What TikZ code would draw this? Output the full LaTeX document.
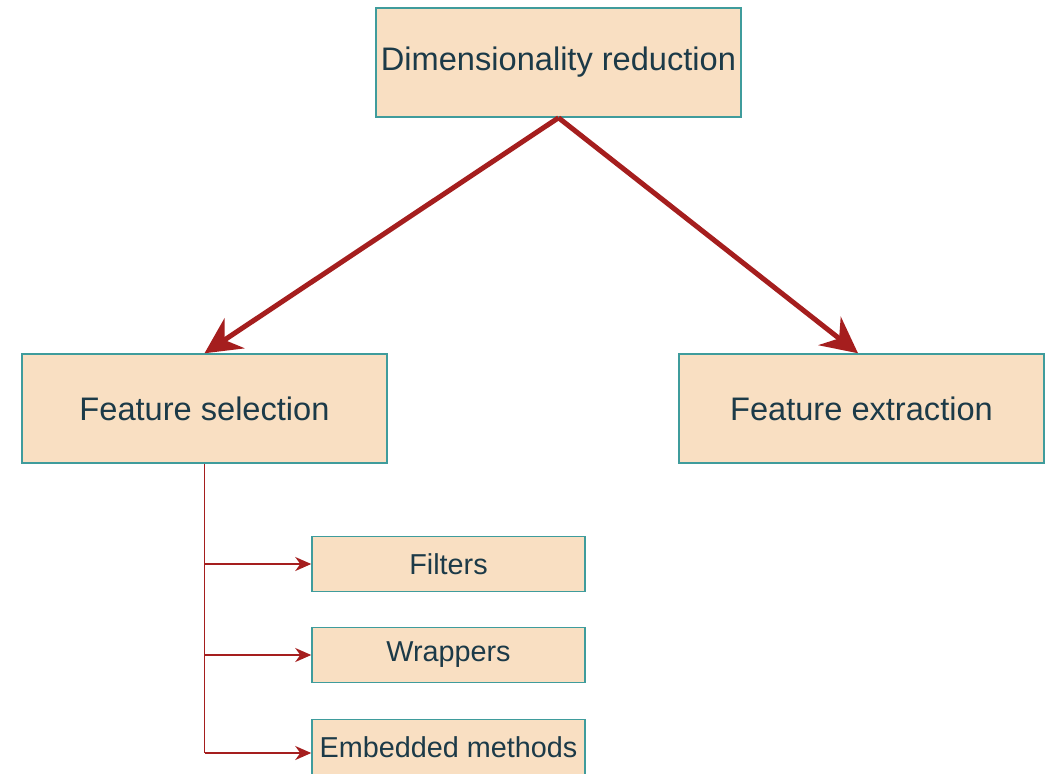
\documentclass[tikz,border=0pt]{standalone}
\usepackage{fontspec}
\setmainfont{Liberation Sans}
\usepackage{tikz}
\usetikzlibrary{positioning,arrows.meta}
\usepackage{xcolor}
\definecolor{boxfill}{HTML}{F9DFC2}
\definecolor{boxline}{HTML}{3F9C9C}
\definecolor{arrowred}{HTML}{A51E1E}
\definecolor{textdark}{HTML}{1C3A48}

\begin{document}
\begin{tikzpicture}[x=0.5pt,y=-0.5pt,
		bigbox/.style={shape=rectangle,draw=boxline,line width=0.75pt,fill=boxfill,text=textdark,
			minimum width=182.5pt,minimum height=54.5pt,inner sep=0pt,font=\fontsize{16.3}{19}\selectfont},
		smallbox/.style={shape=rectangle,draw=boxline,line width=0.75pt,fill=boxfill,text=textdark,
			minimum width=136.5pt,minimum height=27.5pt,inner sep=0pt,font=\fontsize{14.4}{17}\selectfont},
		bigarrow/.style={draw=arrowred,line width=2.5pt,-{Stealth[length=18pt,width=18pt,inset=6pt]}},
		smallarrow/.style={draw=arrowred,line width=0.9pt,-{Stealth[length=8pt,width=7pt,inset=2.5pt]}}]
		\useasboundingbox (0,0) rectangle (1045,773);
		\node[bigbox] (dr) at (558.5, 62.5)   {Dimensionality reduction};
		\node[bigbox] (fs) at (204.5, 408.5)  {Feature selection};
		\node[bigbox] (fe) at (861.5, 408.5)  {Feature extraction};
		
		\node[smallbox] (filt) at (448.5, 564) {Filters};
		\node[smallbox] (wrap) at (448.5, 655) {Wrappers};
		\node[smallbox] (emb) at (448.5, 747)  {Embedded methods};
		
		\coordinate (tb) at (204.5, 753);
		
		\draw[bigarrow] (dr.south) -- (fs.north);
		\draw[bigarrow] (dr.south) -- ([xshift=-1.75pt]fe.north);
		
		\draw[arrowred,line width=0.9pt] (fs.south) -- (tb);
		\draw[smallarrow] (fs.south |- filt.west) -- (filt.west);
		\draw[smallarrow] (fs.south |- wrap.west) -- (wrap.west);
		\draw[smallarrow] (tb) -- ([yshift=-3pt]emb.west);
		\end{tikzpicture}
\end{document}
